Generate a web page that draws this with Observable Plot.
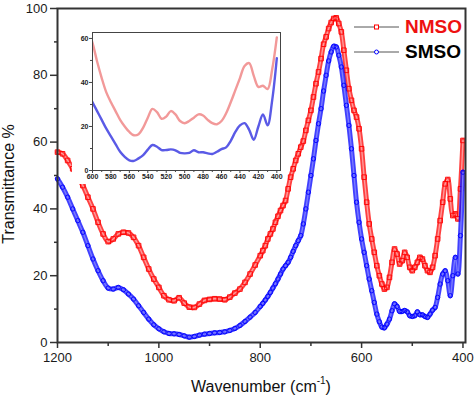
<!DOCTYPE html>
<html><head><meta charset="utf-8">
<script src="https://cdn.jsdelivr.net/npm/d3@7"></script>
<script src="https://cdn.jsdelivr.net/npm/@observablehq/plot@0.6"></script>
<style>
body{margin:0;background:#fff;font-family:"Liberation Sans",Arial,sans-serif}
#wrap{position:relative;width:474px;height:397px;overflow:hidden}
#inset{position:absolute;left:72px;top:30px}
.ytitle{position:absolute;left:9px;top:184px;transform:translate(-50%,-50%) rotate(-90deg);font-size:16px;white-space:nowrap;color:#111}
.xtitle{position:absolute;left:261px;top:386px;transform:translate(-50%,-50%);font-size:16px;white-space:nowrap;color:#111}
.xtitle sup{font-size:10px;position:relative;top:-1px}
.lg{position:absolute;left:354px;height:20px;display:flex;align-items:center;font-weight:bold;font-size:19px}
.lg svg{margin-right:6px}
</style></head><body><div id="wrap"></div>
<script>
const wavenumber = [1200,1190,1180,1170,1160,1150,1140,1130,1120,1110,1100,1090,1080,1070,1060,1050,1040,1030,1020,1010,1000,990,980,970,960,950,940,930,920,910,900,890,880,870,860,850,840,830,820,810,800,
795,790,785,780,775,770,765,760,755,750,745,740,735,730,725,720,715,710,705,700,695,690,685,680,675,670,665,660,655,650,645,640,635,630,625,620,615,610,605,600,595,590,585,580,575,570,565,560,555,550,545,540,535,530,525,520,515,510,505,500,495,490,485,480,475,470,465,460,455,450,445,440,435,430,425,420,415,410,405,400];
const nmso = [57,56.5,54.5,52,49.5,47,43.5,40,36,32.5,30.2,31,32.5,33,32.8,31.5,29,25.5,22,19,16.5,14,12.8,12.5,13.4,11.8,10.6,10.5,11.5,12.6,12.9,13.1,13,12.8,13.6,14.8,16,18,20.5,23.2,26,
27.5,29,31,32.5,34,36,37.8,39.5,41,42.5,46,49.5,52,54.5,56.5,58.5,60.3,63.5,66.5,69.5,73.5,77.5,81,85,89.3,91.5,94,95.8,97,97.2,95.5,93,87.5,81.5,76,72.5,69.5,67.5,64,58,49.5,42,35.5,31,27,23,20,17.5,16,16.5,19.5,24,28,26.5,23.5,24.5,27,25.5,22.5,21.5,22.5,24,25.5,25,23,21.5,21,22.5,26,31,36.5,42,47.5,48.8,43,38,38.5,37,46,60.5];
const smso = [49,46.5,43.5,40,36.5,33,29,25,21.5,18.5,16.3,16,16.5,15.8,14.5,13,11,9,7,5.3,4.1,3.2,2.7,2.6,2.4,2,1.6,1.8,2.2,2.5,2.7,2.9,3,3.2,3.6,4.2,5.1,6.3,7.6,9,10.8,
11.7,12.7,13.8,15,16.3,17.6,19,20.5,22,23,24,25.5,27.3,29,30.5,32,35.5,40,45,50,55,60.5,65.5,70,75.3,80,84.3,87,88.7,88.5,86,82.5,77,71,65,58,50,42,36,31,27,23,19,15.5,12,8.5,6.2,4.6,4.4,5.5,7,9.5,11.6,10.8,9.3,9.3,9.6,9.2,8,7.8,8,9.2,8.3,8.3,7.8,7.5,8.5,9.7,10.5,13.5,17.5,20.5,21.5,18.5,14,20,25.5,20.5,32,51];
const seriesNames = ["NMSO", "SMSO"];
const yTicks = [0,20,40,60,80,100];
const yMinor = [10,30,50,70,90];
const xTicks = [1200,1000,800,600,400];
const xMinor = [1100,900,700,500];
const insetXTicks = [600,580,560,540,520,500,480,460,440,420,400];
const insetXMinor = [590,570,550,530,510,490,470,450,430,410];
const insetYTicks = [0,20,40,60];
const insetYMinor = [10,30,50];

const series = {NMSO: nmso, SMSO: smso};
const rows = seriesNames.flatMap(s => wavenumber.map((w, i) => ({w, t: series[s][i], s})));
const style = {
  NMSO: {edge:"#ff0000", inner:"#ff9a9a", symbol:"square", r:2.6, inset:"#f29999"},
  SMSO: {edge:"#0000ff", inner:"#7a7aff", symbol:"circle", r:2.2, inset:"#5a5ae6"}
};

const seriesMarks = seriesNames.flatMap(s => {
  const d = rows.filter(r => r.s === s);
  const st = style[s];
  return [
    Plot.line(d, {x:"w", y:"t", stroke:st.edge, strokeWidth:5, curve:"catmull-rom", strokeOpacity:0.75}),
    Plot.line(d, {x:"w", y:"t", stroke:st.inner, strokeWidth:1.4, curve:"catmull-rom"}),
    Plot.dot(d, {x:"w", y:"t", symbol:st.symbol, r:st.r, stroke:st.edge, strokeWidth:0.9, fill:"none"})
  ];
});

const fmt = d => String(d);
const main = Plot.plot({
  width:474, height:397, marginLeft:57, marginRight:9, marginTop:8, marginBottom:55,
  style:{fontFamily:"Liberation Sans, Arial, sans-serif", fontSize:"13px", color:"#1a1a1a", background:"#fff"},
  x:{domain:[1200,395], label:null},
  y:{domain:[0,100], label:null},
  marks:[
    ...seriesMarks,
    Plot.axisY(yMinor, {tickSize:3, tickFormat:() => "", stroke:"#333", strokeWidth:1.5}),
    Plot.axisY(yTicks, {tickSize:7, tickPadding:3, tickFormat:fmt, stroke:"#333", strokeWidth:1.5, fontSize:13}),
    Plot.axisX(xMinor, {tickSize:4, tickFormat:() => "", stroke:"#333", strokeWidth:1.5}),
    Plot.axisX(xTicks, {tickSize:6, tickPadding:4, tickFormat:fmt, stroke:"#333", strokeWidth:1.5, fontSize:13}),
    Plot.frame({stroke:"#333", strokeWidth:2})
  ]
});

const insetRows = rows.filter(r => r.w <= 605);
const insetMarks = seriesNames.map(s => Plot.line(insetRows.filter(r => r.s === s), {x:"w", y:"t", stroke:style[s].inset, strokeWidth:2.4, curve:"catmull-rom", clip:true}));
const inset = Plot.plot({
  width:212, height:154, marginLeft:20, marginRight:4, marginTop:2, marginBottom:14,
  style:{fontFamily:"Liberation Sans, Arial, sans-serif", fontSize:"7px", fontWeight:"bold", color:"#222", background:"#fff"},
  x:{domain:[600,396], label:null},
  y:{domain:[0,62.7], label:null},
  marks:[
    ...insetMarks,
    Plot.axisY(insetYMinor, {tickSize:2, tickFormat:() => "", stroke:"#444"}),
    Plot.axisY(insetYTicks, {tickSize:3, tickPadding:1, tickFormat:fmt, stroke:"#444", fontSize:7, fontWeight:"bold"}),
    Plot.axisX(insetXMinor, {tickSize:2, tickFormat:() => "", stroke:"#444"}),
    Plot.axisX(insetXTicks, {tickSize:3, tickPadding:1, tickFormat:fmt, stroke:"#444", fontSize:7, fontWeight:"bold"}),
    Plot.frame({stroke:"#444", strokeWidth:1})
  ]
});
inset.id = "inset";

const wrap = document.getElementById("wrap");
wrap.appendChild(main);
wrap.appendChild(inset);

const yt = document.createElement("div");
yt.className = "ytitle"; yt.textContent = "Transmittance %";
wrap.appendChild(yt);
const xt = document.createElement("div");
xt.className = "xtitle"; xt.innerHTML = "Wavenumber (cm<sup>-1</sup>)";
wrap.appendChild(xt);

const legendTextColor = {NMSO:"#ee1111", SMSO:"#000"};
seriesNames.forEach((s, i) => {
  const st = style[s];
  const div = document.createElement("div");
  div.className = "lg";
  div.style.top = (17 + i * 25) + "px";
  const marker = st.symbol === "square"
    ? `<rect x="20.5" y="8" width="4" height="4" fill="#fff" stroke="${st.edge}" stroke-width="1"/>`
    : `<circle cx="22.5" cy="10" r="2" fill="#fff" stroke="${st.edge}" stroke-width="1"/>`;
  div.innerHTML = `<svg width="45" height="20"><line x1="0" x2="45" y1="10" y2="10" stroke="#555" stroke-width="1"/>${marker}</svg><span style="color:${legendTextColor[s]}">${s}</span>`;
  wrap.appendChild(div);
});
</script></body></html>
